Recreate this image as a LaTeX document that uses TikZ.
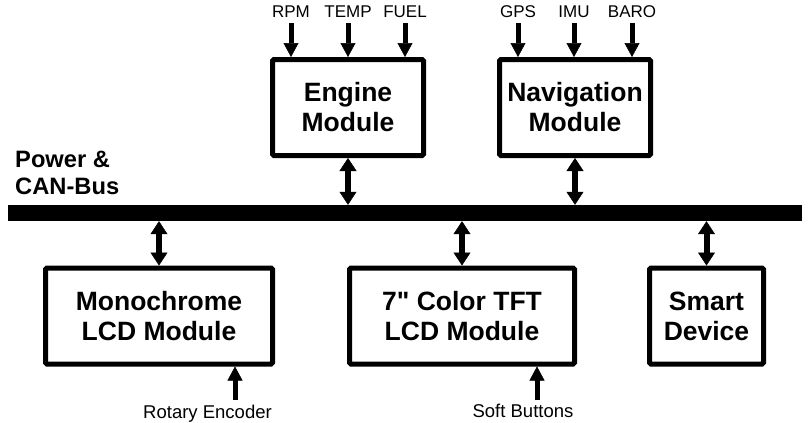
\documentclass[tikz,border=0pt]{standalone}
\usepackage{fontspec}
\setmainfont{Liberation Sans}[Ligatures=TeXOff]
\usetikzlibrary{positioning, arrows.meta}

\tikzset{
  module/.style={draw, line width=5pt, rounded corners=1.5pt, align=center,
    inner sep=0pt, minimum height=96pt, font=\bfseries\fontsize{26.5}{30}\selectfont},
  signal/.style={inner sep=0pt, font=\fontsize{17}{20}\selectfont},
  feed/.style={line width=5pt, -{Triangle[width=15pt,length=14pt,line width=0.5pt]}},
  link/.style={line width=6pt,
    {Triangle[width=17pt,length=13pt,line width=0.5pt]}-{Triangle[width=17pt,length=13pt,line width=0.5pt]}},
}

\begin{document}
\begin{tikzpicture}[x=1pt, y=-1pt]
  \useasboundingbox (0,0) rectangle (809,423);

  % Bus bar
  \node[fill, inner sep=0pt, minimum width=794pt, minimum height=16pt] (bus) at (405,213) {};
  \node[anchor=north west, align=left, inner sep=0pt,
    font=\bfseries\fontsize{23.7}{27}\selectfont] (buslabel) at (15,151) {Power \&\\CAN-Bus};

  % Modules
  \node[module, minimum width=151pt] (engine) at (348,107.5) {Engine\\Module};
  \node[module, minimum width=151pt] (nav) at (575,107.5) {Navigation\\Module};
  \node[module, minimum width=227pt] (mono) at (159,316) {Monochrome\\LCD Module};
  \node[module, minimum width=225pt] (tft) at (462,316) {7" Color TFT\\LCD Module};
  \node[module, minimum width=114pt] (smart) at (706.5,316) {Smart\\Device};

  % Sensor inputs
  \foreach \name/\x/\txt/\m in {rpm/291/RPM/engine, temp/348/TEMP/engine, fuel/405/FUEL/engine,
      gps/518/GPS/nav, imu/574/IMU/nav, baro/632/BARO/nav} {
    \node[signal, anchor=base] (\name) at (\x,17) {\txt};
    \draw[feed] ([yshift=-6pt]\name.south) -- (\name.south |- \m.north);
  }

  % Bus connections
  \foreach \m in {engine, nav}
    \draw[link] (\m.south) -- (\m.south |- bus.north);
  \foreach \m in {mono, tft, smart}
    \draw[link] (\m.north) -- (\m.north |- bus.south);

  % User inputs
  \node[signal, anchor=base, font=\fontsize{18.5}{20}\selectfont] (rotary) at (207.5,418) {Rotary Encoder};
  \coordinate (rotaryin) at (235,400);
  \draw[feed] (rotaryin) -- (rotaryin |- mono.south);

  \node[signal, anchor=base, font=\fontsize{18.5}{20}\selectfont] (soft) at (523,417) {Soft Buttons};
  \coordinate (softin) at (537,400);
  \draw[feed] (softin) -- (softin |- tft.south);

\end{tikzpicture}
\end{document}
